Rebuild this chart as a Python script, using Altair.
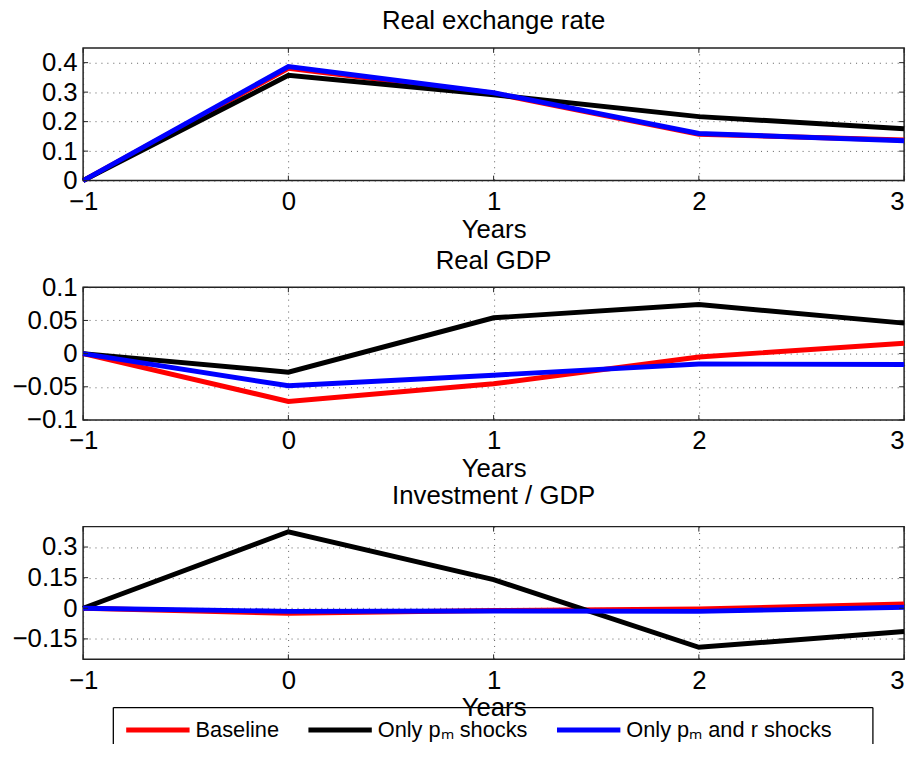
import altair as alt
import pandas as pd

# ---------------- data ----------------
years = [-1, 0, 1, 2, 3]
series_names = ["Baseline", "Only pₘ shocks", "Only pₘ and r shocks"]
series_colors = ["#ff0000", "#000000", "#0000ff"]

rer_baseline = [0.0, 0.381, 0.296, 0.157, 0.138]
rer_pm_only = [0.0, 0.357, 0.291, 0.217, 0.176]
rer_pm_r = [0.0, 0.387, 0.298, 0.160, 0.135]

gdp_baseline = [0.0, -0.072, -0.0455, -0.005, 0.0155]
gdp_pm_only = [0.0, -0.028, 0.054, 0.074, 0.046]
gdp_pm_r = [0.0, -0.0485, -0.0325, -0.0155, -0.0165]

inv_baseline = [0.0, -0.025, -0.011, -0.003, 0.021]
inv_pm_only = [0.0, 0.375, 0.140, -0.191, -0.114]
inv_pm_r = [0.0, -0.015, -0.013, -0.015, 0.005]

panel_titles = ["Real exchange rate", "Real GDP", "Investment / GDP"]
x_title = "Years"
rer_ticks = [0, 0.1, 0.2, 0.3, 0.4]
gdp_ticks = [-0.1, -0.05, 0, 0.05, 0.1]
inv_ticks = [-0.15, 0, 0.15, 0.3]
rer_domain = [0, 0.45]
gdp_domain = [-0.1, 0.1]
inv_domain = [-0.25, 0.4]

# ---------------- style ----------------
FONT = "Liberation Sans"
W, H = 829, 134
GAP = 107.7
FS = 26

color_scale = alt.Scale(domain=series_names, range=series_colors)
legend = alt.Legend(
    orient="none", legendX=41, legendY=654, direction="horizontal",
    title=None, symbolType="stroke", symbolSize=4096, symbolStrokeWidth=5,
    labelFont=FONT, labelFontSize=22, labelColor="black", labelOffset=3.5,
    columnPadding=19, padding=0, labelLimit=0,
)

last_year_align = {
    "condition": {"test": f"datum.value == {years[-1]}", "value": "right"},
    "value": "center",
}


def panel(title, vals, ticks, domain, title_dy, with_box=False):
    rows = []
    for name, v in zip(series_names, vals):
        for yr, val in zip(years, v):
            rows.append({"year": yr, "value": val, "series": name})
    df = pd.DataFrame(rows)

    xenc = alt.X(
        "year:Q",
        scale=alt.Scale(domain=[years[0], years[-1]], nice=False, zero=False),
        axis=alt.Axis(
            values=years, format="d", title=x_title, titleFont=FONT,
            titleFontSize=FS, titleFontWeight="normal", titleColor="black",
            titleY=36, titleBaseline="top",
            labelFont=FONT, labelFontSize=FS, labelColor="black",
            labelAlign=last_year_align,
            labelPadding=8, labelFlush=False, labelOverlap=False,
            tickSize=0, domain=False, grid=True, gridColor="#333",
            gridDash=[1, 5], gridWidth=1, gridOpacity=0.8,
        ),
    )
    yenc = alt.Y(
        "value:Q",
        scale=alt.Scale(domain=domain, nice=False, zero=False),
        axis=alt.Axis(
            values=ticks, format=".2~g", title="",
            labelFont=FONT, labelFontSize=FS, labelColor="black",
            labelPadding=6, labelFlush=False, labelOverlap=False,
            tickSize=0, domain=False, grid=True, gridColor="#333",
            gridDash=[1, 5], gridWidth=1, gridOpacity=0.8,
        ),
    )

    layers = []
    for name in series_names:
        layers.append(
            alt.Chart(df)
            .transform_filter(alt.datum.series == name)
            .mark_line(strokeWidth=5)
            .encode(x=xenc, y=yenc,
                    color=alt.Color("series:N", scale=color_scale, legend=legend))
        )

    ytick_df = pd.DataFrame({"value": ticks})
    xtick_df = pd.DataFrame({"year": years})
    tk = dict(color="#222", strokeWidth=1)
    layers += [
        alt.Chart(ytick_df).mark_rule(**tk).encode(y=yenc, x=alt.value(0), x2=alt.value(5)),
        alt.Chart(ytick_df).mark_rule(**tk).encode(y=yenc, x=alt.value(W - 5), x2=alt.value(W)),
        alt.Chart(xtick_df).mark_rule(**tk).encode(x=xenc, y=alt.value(H), y2=alt.value(H - 5)),
        alt.Chart(xtick_df).mark_rule(**tk).encode(x=xenc, y=alt.value(0), y2=alt.value(5)),
    ]

    if with_box:
        one = pd.DataFrame({"k": [0]})
        bx = dict(color="#000", strokeWidth=1.3)
        layers += [
            alt.Chart(one).mark_rule(**bx).encode(x=alt.value(30.5), x2=alt.value(797.5), y=alt.value(182.7)),
            alt.Chart(one).mark_rule(**bx).encode(x=alt.value(30.5), y=alt.value(182.7), y2=alt.value(260)),
            alt.Chart(one).mark_rule(**bx).encode(x=alt.value(797.5), y=alt.value(182.7), y2=alt.value(260)),
        ]

    return alt.layer(*layers).properties(
        width=W, height=H,
        title=alt.TitleParams(
            text=title, fontSize=FS, font=FONT, fontWeight="normal",
            color="black", anchor="middle", frame="group",
            baseline="alphabetic", offset=20, dy=title_dy,
        ),
    )


p1 = panel(panel_titles[0], [rer_baseline, rer_pm_only, rer_pm_r], rer_ticks, rer_domain, 27.6)
p2 = panel(panel_titles[1], [gdp_baseline, gdp_pm_only, gdp_pm_r], gdp_ticks, gdp_domain, 40.6)
p3 = panel(panel_titles[2], [inv_baseline, inv_pm_only, inv_pm_r], inv_ticks, inv_domain, 27.6, with_box=True)

chart = (
    alt.vconcat(p1, p2, p3, spacing=GAP, bounds="flush")
    .resolve_scale(y="independent", x="shared", color="shared")
    .properties(padding={"left": 2.85, "top": -4.3, "right": 0, "bottom": -45.4})
    .configure_view(stroke="#222", strokeWidth=1.5)
)

chart.save("out.html", embed_options={"renderer": "svg", "actions": False})
